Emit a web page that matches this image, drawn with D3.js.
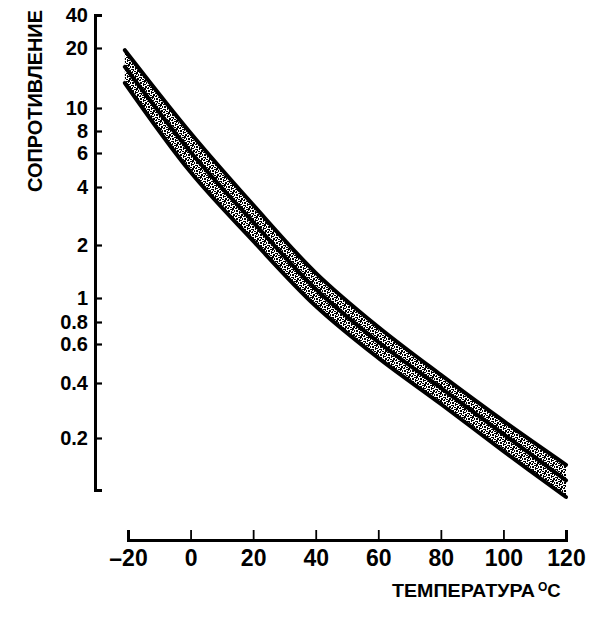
<!DOCTYPE html>
<html>
<head>
<meta charset="utf-8">
<script src="https://cdn.jsdelivr.net/npm/d3@7"></script>
<style>
  html, body { margin: 0; padding: 0; background: #fff; }
  svg { display: block; }
  text { font-family: "Liberation Sans", Arial, sans-serif; font-weight: bold; fill: #000; }
</style>
</head>
<body>
<svg id="chart" width="601" height="620"></svg>
<script>
// ---- data ----
const temperatures = [-21, 0, 20, 40, 60, 80, 100, 120];
const upperValues  = [19.5, 7.79, 3.23, 1.39, 0.749, 0.435, 0.248, 0.147];
const middleValues = [16.1, 6.08, 2.63, 1.125, 0.616, 0.376, 0.210, 0.123];
const lowerValues  = [13.35, 4.78, 2.10, 0.928, 0.519, 0.307, 0.172, 0.1015];
const xTickValues = [-20, 0, 20, 40, 60, 80, 100, 120];
const yTickValues = [40, 20, 10, 8, 6, 4, 2, 1, 0.8, 0.6, 0.4, 0.2];
const yTickLabels = ["40", "20", "10", "8", "6", "4", "2", "1", "0.8", "0.6", "0.4", "0.2"];
const yTitle = "СОПРОТИВЛЕНИЕ";
const xTitle = "ТЕМПЕРАТУРА";

// ---- layout ----
const svg = d3.select("#chart");
const yAxisX = 95;
const xAxisY = 540;

const x = d3.scaleLinear().domain([-20, 120]).range([128, 566]);
// hand-drawn log axis: piecewise log scale following the printed (uneven) tick spacing
const y = d3.scaleLog()
  .domain([0.11, 0.2, 0.4, 0.6, 0.8, 1, 2, 4, 6, 8, 10, 20, 40])
  .range([490, 438, 383, 344, 322, 298, 245, 187, 153, 131, 108, 48, 15]);

// stipple pattern for the band
const defs = svg.append("defs");
const pat = defs.append("pattern")
  .attr("id", "stipple").attr("patternUnits", "userSpaceOnUse")
  .attr("width", 8).attr("height", 8);
pat.append("rect").attr("width", 8).attr("height", 8).attr("fill", "#fff");
[[0,0,2,2],[3,0,2,1],[6,1,2,1],[2,2,1,2],[4,2,2,2],[7,3,1,2],[0,4,2,1],[3,5,2,1],
 [5,5,1,2],[1,6,2,2],[6,7,2,1],[0,2,1,1],[7,5,1,1],[4,7,1,1]]
  .forEach(r => pat.append("rect").attr("x", r[0]).attr("y", r[1])
    .attr("width", r[2]).attr("height", r[3]).attr("fill", "#000"));

const rows = temperatures.map((t, i) => ({t, u: upperValues[i], m: middleValues[i], l: lowerValues[i]}));
const curve = d3.curveCatmullRom.alpha(0.5);

// band
svg.append("path")
  .datum(rows)
  .attr("d", d3.area().curve(curve).x(d => x(d.t)).y0(d => y(d.l)).y1(d => y(d.u)))
  .attr("fill", "url(#stipple)");

// lines
const line = key => d3.line().curve(curve).x(d => x(d.t)).y(d => y(d[key]));
["u", "m", "l"].forEach(k => {
  svg.append("path").datum(rows)
    .attr("d", line(k))
    .attr("fill", "none").attr("stroke", "#000")
    .attr("stroke-width", 4).attr("stroke-linecap", "round");
});

// y axis
const yAxis = d3.axisLeft(y)
  .tickValues(yTickValues)
  .tickFormat((d, i) => yTickLabels[i])
  .tickSizeInner(-7).tickSizeOuter(-7).tickPadding(7);
const gy = svg.append("g").attr("transform", `translate(${yAxisX},0)`).call(yAxis);
gy.select(".domain").attr("stroke", "#000").attr("stroke-width", 3).attr("fill", "none");
gy.selectAll(".tick line").attr("stroke", "#000").attr("stroke-width", 2.2);
gy.selectAll(".tick text")
  .attr("font-size", 20).attr("font-family", "Liberation Sans, Arial, sans-serif")
  .attr("font-weight", "bold").attr("fill", "#000");

// x axis
const xAxis = d3.axisTop(x)
  .tickValues(xTickValues)
  .tickFormat(d => d < 0 ? "\u2013" + Math.abs(d) : String(d))
  .tickSizeInner(10).tickSizeOuter(10).tickPadding(0);
const gx = svg.append("g").attr("transform", `translate(0,${xAxisY})`).call(xAxis);
gx.select(".domain").attr("stroke", "#000").attr("stroke-width", 3).attr("fill", "none");
gx.selectAll(".tick line").attr("stroke", "#000").attr("stroke-width", 1.8);
gx.selectAll(".tick text")
  .attr("y", 26).attr("dy", 0)
  .attr("font-size", 23).attr("font-family", "Liberation Sans, Arial, sans-serif")
  .attr("font-weight", "bold").attr("fill", "#000");

// titles
svg.append("text")
  .attr("transform", "translate(42,101) rotate(-90)")
  .attr("text-anchor", "middle")
  .attr("font-size", 20)
  .attr("textLength", 182).attr("lengthAdjust", "spacingAndGlyphs")
  .text(yTitle);

const xt = svg.append("text").attr("x", 392).attr("y", 597).attr("font-size", 18.5);
xt.append("tspan").attr("textLength", 143).attr("lengthAdjust", "spacingAndGlyphs").text(xTitle);
xt.append("tspan").attr("dx", 3).attr("dy", -6).attr("font-size", 12).text("O");
xt.append("tspan").attr("dy", 6).attr("font-size", 18.5).text("C");
</script>
</body>
</html>
